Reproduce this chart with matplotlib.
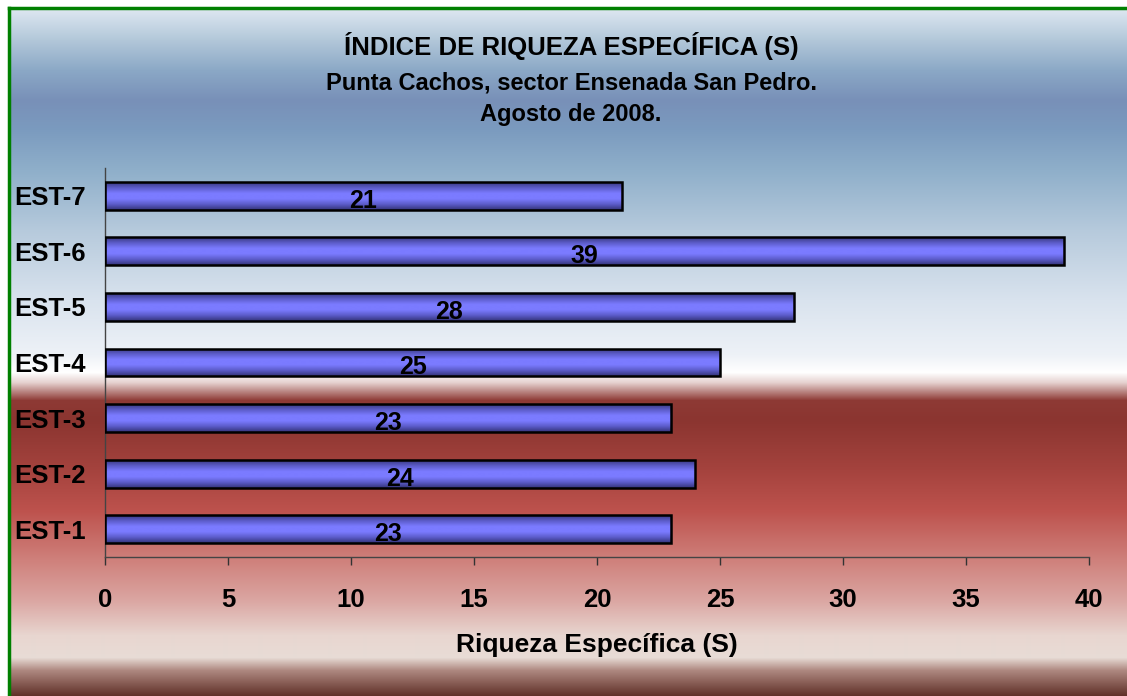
import numpy as np
import matplotlib
matplotlib.use("Agg")
import matplotlib.pyplot as plt
from matplotlib.colors import LinearSegmentedColormap, to_rgb
from matplotlib.patches import Rectangle
from matplotlib.lines import Line2D

categories = ["EST-1", "EST-2", "EST-3", "EST-4", "EST-5", "EST-6", "EST-7"]
values = [23, 24, 23, 25, 28, 39, 21]
x_ticks = [0, 5, 10, 15, 20, 25, 30, 35, 40]

title1 = "ÍNDICE DE RIQUEZA ESPECÍFICA (S)"
title2 = "Punta Cachos, sector Ensenada San Pedro."
title3 = "Agosto de 2008."
xlabel = "Riqueza Específica (S)"

plt.rcParams['font.family'] = ['Liberation Sans', 'DejaVu Sans']

W, H = 1127, 696
fig = plt.figure(figsize=(W / 100, H / 100), dpi=100)
fig.patch.set_facecolor("white")

# background gradient (pixel rows -> colours)
stops = [
    (9, "#dde7f1"), (40, "#b2c7d9"), (70, "#8ba8c6"), (100, "#7890b8"),
    (130, "#7b9bbf"), (170, "#8fafca"), (230, "#b6cadc"), (300, "#d9e3ee"),
    (355, "#eef2f7"), (372, "#ffffff"), (382, "#e6d2d0"), (400, "#8e3a35"),
    (420, "#8b3530"), (470, "#a5433e"), (510, "#bd524d"), (560, "#cf817c"),
    (600, "#dba6a2"), (635, "#e8d6d0"), (657, "#e8dcd6"), (670, "#ae8880"),
    (696, "#5e2e26"),
]
rows = np.arange(9, H)
ys = [s[0] for s in stops]
cols = np.array([to_rgb(s[1]) for s in stops])
grad = np.stack([np.interp(rows, ys, cols[:, k]) for k in range(3)], axis=1)
bg = fig.add_axes([0, 0, 1, 1], zorder=0)
bg.set_xlim(0, W)
bg.set_ylim(H, 0)
bg.axis("off")
bg.imshow(grad[:, None, :], extent=(10, W, H, 9), aspect="auto", interpolation="bilinear")
bg.add_line(Line2D([9, 9], [8, H], color="#008000", lw=2.5))
bg.add_line(Line2D([9, W], [8, 8], color="#008000", lw=2.5))

fig.text(571 / W, 1 - 46 / H, title1, ha="center", va="center", fontsize=18.5, fontweight="bold")
fig.text(571 / W, 1 - 83 / H, title2, ha="center", va="center", fontsize=17, fontweight="bold")
fig.text(571 / W, 1 - 114 / H, title3, ha="center", va="center", fontsize=17, fontweight="bold")

ax = fig.add_axes([105 / W, 1 - 557 / H, (1089 - 105) / W, (557 - 168) / H], zorder=1)
ax.patch.set_alpha(0)
ypos = np.arange(len(categories))
bars = ax.barh(ypos, values, height=0.5, color="none", edgecolor="black", linewidth=1.8, zorder=3)

bar_cmap = LinearSegmentedColormap.from_list(
    "barg", ["#38387e", "#5c5cca", "#7b7bff", "#7b7bff", "#5c5cca", "#34347a"])
g = np.linspace(0, 1, 64)[:, None]
for b in bars:
    x0, y0, w, h = b.get_x(), b.get_y(), b.get_width(), b.get_height()
    im = ax.imshow(g, cmap=bar_cmap, extent=(x0, x0 + w, y0, y0 + h),
                   aspect="auto", interpolation="bilinear", zorder=2)
    im.set_clip_path(Rectangle((x0, y0), w, h, transform=ax.transData))

for yp, v in zip(ypos, values):
    ax.annotate(str(v), (v / 2, yp), xytext=(0, -3.5), textcoords="offset points",
                ha="center", va="center", fontsize=18, fontweight="bold", zorder=4)

ax.set_xlim(0, 40)
ax.set_ylim(-0.5, len(categories) - 0.5)
ax.set_xticks(x_ticks)
ax.set_xticklabels([str(t) for t in x_ticks])
ax.set_yticks(ypos)
ax.set_yticklabels(categories)
for lab in ax.get_yticklabels():
    lab.set_ha("left")
    lab.set_fontweight("bold")
for lab in ax.get_xticklabels():
    lab.set_fontweight("bold")
ax.tick_params(axis="y", length=0, pad=65.5, labelsize=18.5)
ax.tick_params(axis="x", length=6, width=1, color="#333333", pad=16, labelsize=18.5)
for s in ["top", "right"]:
    ax.spines[s].set_visible(False)
for s in ["left", "bottom"]:
    ax.spines[s].set_color("#444444")
    ax.spines[s].set_linewidth(1)
ax.set_xlabel(xlabel, fontsize=19, fontweight="bold", labelpad=15.5)

fig.savefig("out.png", dpi=100)
